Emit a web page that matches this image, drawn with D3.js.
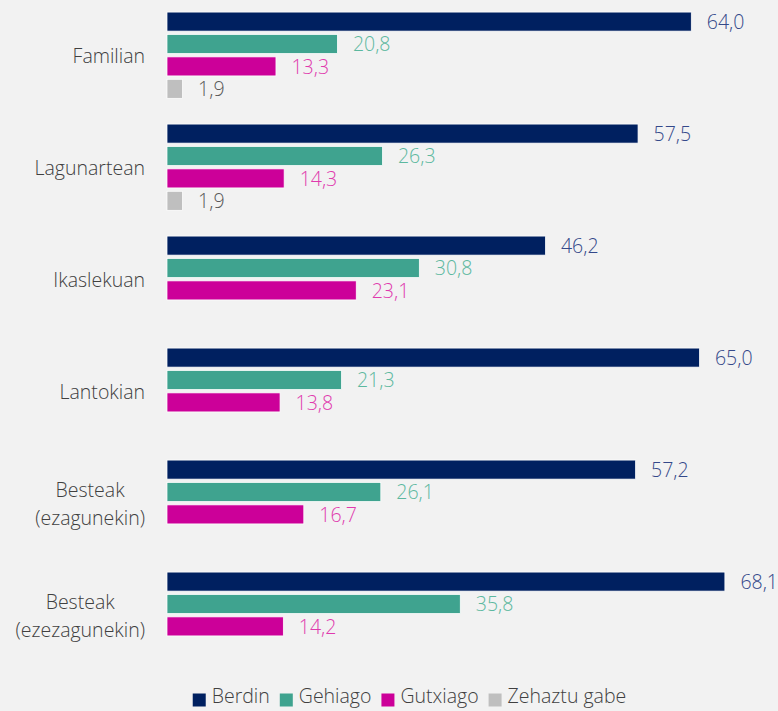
<!DOCTYPE html>
<html>
<head>
<meta charset="utf-8">
<script src="https://cdn.jsdelivr.net/npm/d3@7"></script>
<style>
  html, body { margin: 0; padding: 0; background: #f2f2f2; }
  text { font-family: "Open Sans", "Noto Sans", sans-serif; font-weight: 300; }
</style>
</head>
<body>
<div id="plot"></div>
<script>
const w = 778;
const h = 711;

const categories = [
  ["Familian"],
  ["Lagunartean"],
  ["Ikaslekuan"],
  ["Lantokian"],
  ["Besteak", "(ezagunekin)"],
  ["Besteak", "(ezezagunekin)"]
];
const seriesNames = ["Berdin", "Gehiago", "Gutxiago", "Zehaztu gabe"];
const berdin = [64.0, 57.5, 46.2, 65.0, 57.2, 68.1];
const gehiago = [20.8, 26.3, 30.8, 21.3, 26.1, 35.8];
const gutxiago = [13.3, 14.3, 23.1, 13.8, 16.7, 14.2];
const zehaztuGabe = [1.9, 1.9, null, null, null, null];

const barColors = ["#002060", "#3fa38f", "#cc0099", "#bfbfbf"];
const labelColors = ["#34498a", "#5cb89f", "#e03aae", "#595959"];

const seriesValues = [berdin, gehiago, gutxiago, zehaztuGabe];
const catKeys = categories.map(c => c.join(" "));

const rows = [];
catKeys.forEach((c, i) => {
  seriesNames.forEach((s, j) => {
    const v = seriesValues[j][i];
    if (v !== null) rows.push({ cat: c, series: s, value: v, j: j });
  });
});

const svg = d3.select("#plot").append("svg")
  .attr("width", w)
  .attr("height", h);

const xScale = d3.scaleLinear()
  .domain([0, 64])
  .range([167, 691.3]);

const yGroup = d3.scaleBand()
  .domain(catKeys)
  .range([-0.8, 671.2])
  .paddingInner(0.2)
  .paddingOuter(0.1);

const ySub = d3.scaleBand()
  .domain(seriesNames)
  .range([0, yGroup.bandwidth()])
  .paddingInner(0.15)
  .paddingOuter(0.075);

const bars = svg.append("g");

bars.selectAll("rect")
  .data(rows)
  .join("rect")
  .attr("x", xScale(0))
  .attr("y", d => yGroup(d.cat) + ySub(d.series))
  .attr("width", d => xScale(d.value) - xScale(0))
  .attr("height", ySub.bandwidth())
  .attr("fill", d => barColors[d.j])
  .attr("stroke", "#ffffff")
  .attr("stroke-width", 0.75);

bars.selectAll("text.value")
  .data(rows)
  .join("text")
  .attr("class", "value")
  .attr("x", d => xScale(d.value) + 15.5)
  .attr("y", d => yGroup(d.cat) + ySub(d.series) + ySub.bandwidth() / 2)
  .attr("dy", "0.38em")
  .attr("font-size", "19.5px")
  .attr("fill", d => labelColors[d.j])
  .text(d => d3.format(".1f")(d.value).replace(".", ","));

// category labels, block right-aligned, lines centred in block
const catG = svg.append("g");
categories.forEach((lines, i) => {
  const cy = yGroup(catKeys[i]) + yGroup.bandwidth() / 2;
  const lh = 28;
  const t = catG.append("text")
    .attr("font-size", "19.5px")
    .attr("fill", "#404040")
    .attr("text-anchor", "middle");
  lines.forEach((ln, k) => {
    t.append("tspan")
      .attr("y", cy + (k - (lines.length - 1) / 2) * lh)
      .attr("dy", "0.4em")
      .text(ln);
  });
  let maxW = 0;
  t.selectAll("tspan").each(function() {
    maxW = Math.max(maxW, this.getComputedTextLength());
  });
  t.selectAll("tspan").attr("x", 145 - maxW / 2);
});

// legend
const legend = svg.append("g");
let lx = 0;
seriesNames.forEach((s, j) => {
  const item = legend.append("g").attr("transform", `translate(${lx},0)`);
  item.append("rect")
    .attr("x", 0)
    .attr("y", -6.5)
    .attr("width", 13)
    .attr("height", 13)
    .attr("fill", barColors[j]);
  const tx = item.append("text")
    .attr("x", 19)
    .attr("y", 2.5)
    .attr("font-size", "19.5px")
    .attr("fill", "#404040")
    .text(s);
  lx += 19 + tx.node().getComputedTextLength() + 10;
});
const legendW = lx - 10;
legend.attr("transform", `translate(${409.5 - legendW / 2},700)`);
</script>
</body>
</html>
